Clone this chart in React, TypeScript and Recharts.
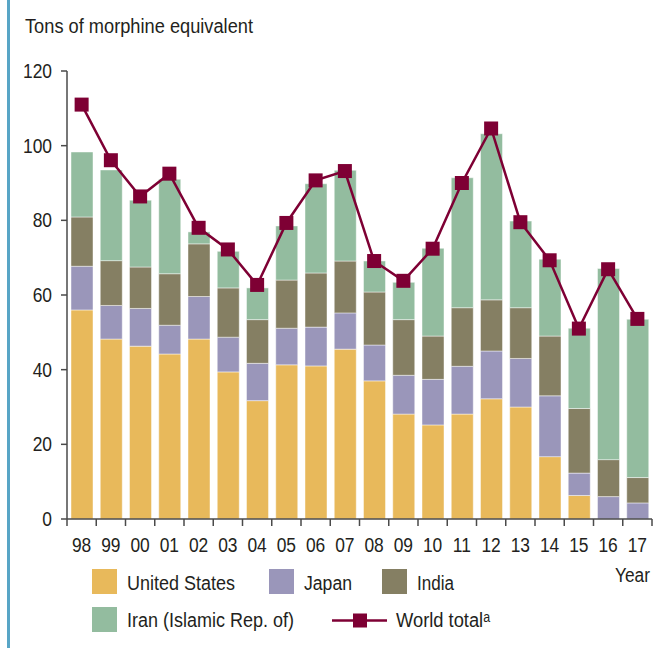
import { ComposedChart, Bar, Line, XAxis, YAxis } from "recharts";

const years = ["98", "99", "00", "01", "02", "03", "04", "05", "06", "07", "08", "09", "10", "11", "12", "13", "14", "15", "16", "17"];
const unitedStates = [56.0, 48.2, 46.3, 44.2, 48.2, 39.4, 31.7, 41.3, 41.0, 45.5, 37.0, 28.1, 25.2, 28.1, 32.2, 30.0, 16.7, 6.3, 0, 0];
const japan = [11.7, 9.0, 10.1, 7.7, 11.4, 9.3, 10.0, 9.8, 10.4, 9.7, 9.6, 10.4, 12.2, 12.8, 12.8, 13.0, 16.3, 6.0, 6.0, 4.3];
const india = [13.2, 12.0, 11.1, 13.8, 14.1, 13.2, 11.7, 12.9, 14.5, 13.9, 14.2, 14.9, 11.6, 15.7, 13.7, 13.6, 16.0, 17.3, 9.9, 6.8];
const iran = [17.4, 24.3, 17.9, 25.3, 3.2, 9.8, 8.5, 14.5, 23.9, 24.3, 8.3, 10.0, 23.5, 34.8, 44.5, 23.2, 20.6, 21.5, 51.2, 42.4];
const worldTotal = [111.0, 96.1, 86.4, 92.5, 78.0, 72.2, 62.7, 79.3, 90.7, 93.2, 69.1, 63.8, 72.4, 90.0, 104.6, 79.5, 69.3, 51.0, 66.9, 53.6];
const yTicks = [0, 20, 40, 60, 80, 100, 120];

const data = years.map((year, i) => ({
  year,
  us: unitedStates[i],
  japan: japan[i],
  india: india[i],
  iran: iran[i],
  world: worldTotal[i],
}));

// no narrow font installed, so Liberation Sans gets squeezed sideways
const FONT = "'Liberation Sans', Arial, sans-serif";
const SQUEEZE = 0.87;
const TEXT = "#231f20";
const AXIS = "#4a4a4a";
const C_US = "#e8b95b";
const C_JP = "#9a96ba";
const C_IN = "#857f63";
const C_IR = "#93bc9f";
const C_WORLD = "#7e0034";

const PLOT_LEFT = 67;
const PLOT_RIGHT = 652;
const BAND = (PLOT_RIGHT - PLOT_LEFT) / years.length;

function YearTick(props: any) {
  const { x, y, payload, index } = props;
  const left = x - BAND / 2;
  return (
    <g>
      <line x1={left} y1={y} x2={left} y2={y + 7} stroke={AXIS} strokeWidth={1.5} />
      {index === years.length - 1 && (
        <line x1={x + BAND / 2} y1={y} x2={x + BAND / 2} y2={y + 7} stroke={AXIS} strokeWidth={1.5} />
      )}
      <text
        transform={`translate(${x},${y + 33}) scale(${SQUEEZE},1)`}
        textAnchor="middle"
        fill={TEXT}
        fontSize={20}
        fontFamily={FONT}
      >
        {payload.value}
      </text>
    </g>
  );
}

function ValueTick(props: any) {
  const { x, y, payload } = props;
  return (
    <text
      transform={`translate(${x},${y + 7}) scale(${SQUEEZE},1)`}
      textAnchor="end"
      fill={TEXT}
      fontSize={20}
      fontFamily={FONT}
    >
      {payload.value}
    </text>
  );
}

function SquareDot(props: any) {
  const { cx, cy, index } = props;
  return <rect key={`dot-${index}`} x={cx - 7} y={cy - 7} width={14} height={14} fill={C_WORLD} />;
}

const segStroke = { stroke: "#ffffff", strokeOpacity: 0.45, strokeWidth: 1 };

export default function App() {
  return (
    <div style={{ position: "absolute", left: 0, top: 0, width: 665, height: 648, background: "#fff" }}>
      <div style={{ position: "absolute", left: 7, top: 0, width: 3, height: 648, background: "#58a5c6" }} />
      <ComposedChart
        width={665}
        height={648}
        data={data}
        margin={{ top: 71, right: 13, left: 0, bottom: 0 }}
      >
        <XAxis
          dataKey="year"
          height={129}
          interval={0}
          tickLine={false}
          tickSize={0}
          tickMargin={0}
          axisLine={{ stroke: AXIS, strokeWidth: 1.5 }}
          tick={<YearTick />}
        />
        <YAxis
          width={67}
          domain={[0, 120]}
          ticks={yTicks}
          interval={0}
          tickSize={6}
          tickMargin={9}
          axisLine={{ stroke: AXIS, strokeWidth: 1.5 }}
          tickLine={{ stroke: AXIS, strokeWidth: 1.5 }}
          tick={<ValueTick />}
        />
        <Bar dataKey="us" stackId="a" fill={C_US} barSize={22} {...segStroke} isAnimationActive={false} />
        <Bar dataKey="japan" stackId="a" fill={C_JP} barSize={22} {...segStroke} isAnimationActive={false} />
        <Bar dataKey="india" stackId="a" fill={C_IN} barSize={22} {...segStroke} isAnimationActive={false} />
        <Bar dataKey="iran" stackId="a" fill={C_IR} barSize={22} {...segStroke} isAnimationActive={false} />
        <Line
          dataKey="world"
          type="linear"
          stroke={C_WORLD}
          strokeWidth={2.5}
          dot={<SquareDot />}
          activeDot={false}
          isAnimationActive={false}
        />
      </ComposedChart>
      <svg
        width={665}
        height={648}
        style={{ position: "absolute", left: 0, top: 0, pointerEvents: "none" }}
        fontFamily={FONT}
        fill={TEXT}
      >
        <text x={25} y={33} fontSize={20} textLength={228} lengthAdjust="spacingAndGlyphs">Tons of morphine equivalent</text>
        <text x={615} y={582} fontSize={20} textLength={35} lengthAdjust="spacingAndGlyphs">Year</text>

        <rect x={92} y={569} width={25} height={25} fill={C_US} />
        <text x={127} y={590} fontSize={20} textLength={108} lengthAdjust="spacingAndGlyphs">United States</text>
        <rect x={269} y={569} width={25} height={25} fill={C_JP} />
        <text x={304} y={590} fontSize={20} textLength={48} lengthAdjust="spacingAndGlyphs">Japan</text>
        <rect x={382} y={569} width={25} height={25} fill={C_IN} />
        <text x={417} y={590} fontSize={20} textLength={37} lengthAdjust="spacingAndGlyphs">India</text>

        <rect x={92} y={607} width={25} height={25} fill={C_IR} />
        <text x={127} y={627} fontSize={20} textLength={167} lengthAdjust="spacingAndGlyphs">Iran (Islamic Rep. of)</text>
        <line x1={332} y1={620.5} x2={387} y2={620.5} stroke={C_WORLD} strokeWidth={2.5} />
        <rect x={353} y={613.5} width={14} height={14} fill={C_WORLD} />
        <text x={396} y={627} fontSize={20} textLength={94} lengthAdjust="spacingAndGlyphs">World totalᵃ</text>
      </svg>
    </div>
  );
}
